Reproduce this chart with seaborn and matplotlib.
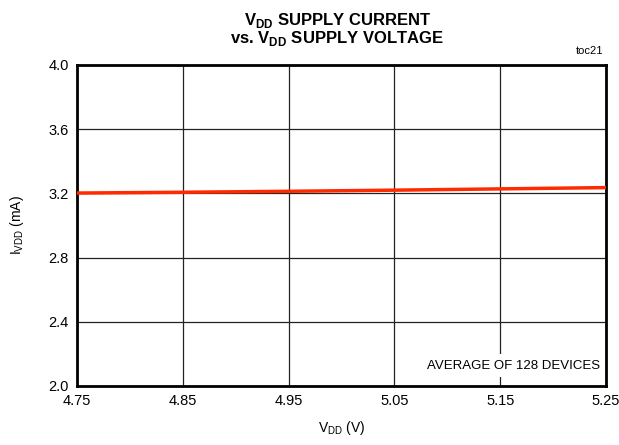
import matplotlib
matplotlib.use("Agg")
import matplotlib.pyplot as plt
import seaborn as sns
import pandas as pd

vdd = [4.75, 4.85, 4.95, 5.05, 5.15, 5.25]
idd = [3.202, 3.207, 3.213, 3.220, 3.228, 3.236]
xticks = [4.75, 4.85, 4.95, 5.05, 5.15, 5.25]
xticklabels = ["4.75", "4.85", "4.95", "5.05", "5.15", "5.25"]
yticks = [2.0, 2.4, 2.8, 3.2, 3.6, 4.0]
yticklabels = ["2.0", "2.4", "2.8", "3.2", "3.6", "4.0"]

sns.set_style("white")
plt.rcParams['font.family'] = ['Liberation Sans', 'DejaVu Sans']
plt.rcParams['mathtext.fontset'] = 'custom'
plt.rcParams['mathtext.rm'] = 'Liberation Sans'
for k in ['text.color', 'axes.labelcolor', 'xtick.color', 'ytick.color']:
    plt.rcParams[k] = 'black'

df = pd.DataFrame({"VDD": vdd, "IDD": idd})

fig = plt.figure(figsize=(6.19, 4.45), dpi=100)
ax = fig.add_axes([0.1244, 0.1326, 0.8546, 0.7214])
sns.lineplot(data=df, x="VDD", y="IDD", ax=ax, color="#FF2A00", linewidth=2.5, zorder=3)

ax.set_xlim(4.75, 5.25)
ax.set_ylim(2.0, 4.0)
ax.set_xticks(xticks)
ax.set_xticklabels(xticklabels, fontsize=10.5)
ax.set_yticks(yticks)
ax.set_yticklabels(yticklabels, fontsize=10.5)
ax.tick_params(axis='both', length=0, pad=6)
ax.grid(True, color="#222222", linewidth=0.9)
for s in ax.spines.values():
    s.set_visible(True)
    s.set_color("black")
    s.set_linewidth(2)

ax.set_xlabel(r"V$_{\mathregular{DD}}$ (V)", fontsize=10, labelpad=8)
ax.set_ylabel(r"I$_{\mathregular{VDD}}$ (mA)", fontsize=10, labelpad=16)

fig.text(0.545, 0.975, r"V$_{\mathregular{DD}}$ SUPPLY CURRENT", ha="center", va="top",
         fontsize=12, fontweight="bold")
fig.text(0.545, 0.935, r"vs. V$_{\mathregular{DD}}$ SUPPLY VOLTAGE", ha="center", va="top",
         fontsize=12, fontweight="bold")
fig.text(0.975, 0.875, "toc21", ha="right", va="bottom", fontsize=8)

ax.text(0.988, 0.063, "AVERAGE OF 128 DEVICES", transform=ax.transAxes, ha="right", va="center",
        fontsize=9.5, zorder=4,
        bbox=dict(facecolor="white", edgecolor="none", pad=4))

fig.savefig("out.png", dpi=100)
